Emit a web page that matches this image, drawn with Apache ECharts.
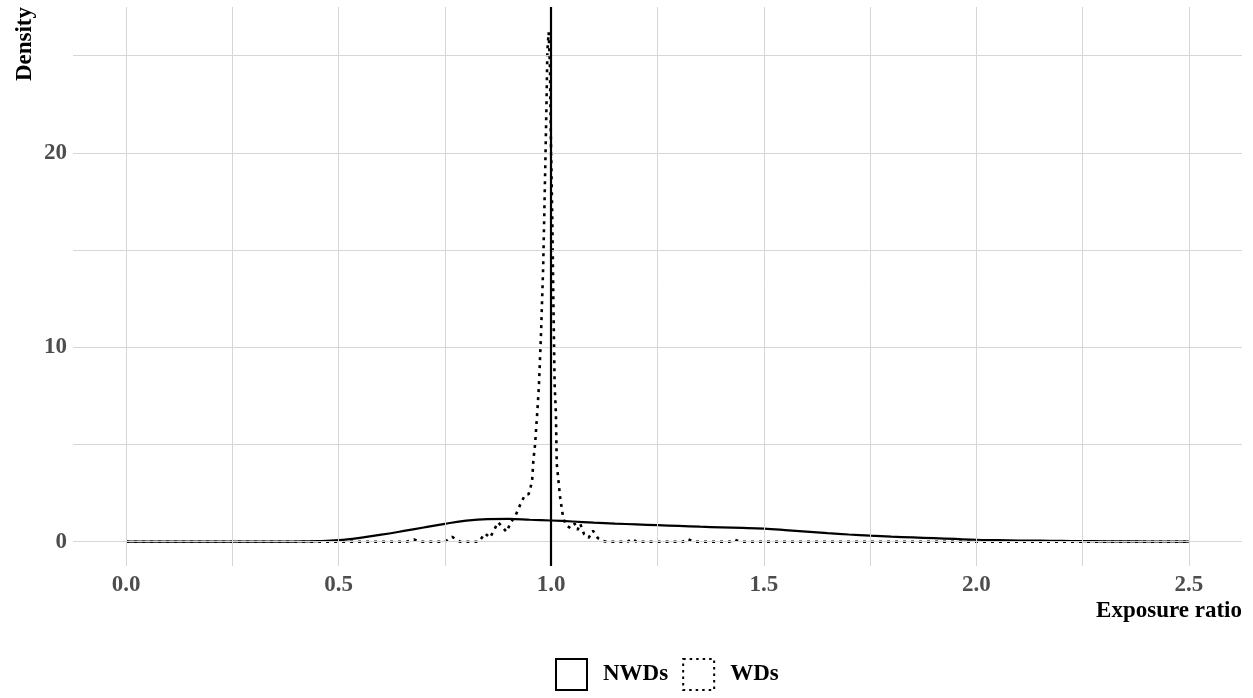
<!DOCTYPE html>
<html>
<head>
<meta charset="utf-8">
<script src="https://cdn.jsdelivr.net/npm/echarts@6/dist/echarts.min.js"></script>
<style>
html,body{margin:0;padding:0;background:#fff;}
#chart{width:1253px;height:698px;}
</style>
</head>
<body>
<div id="chart"></div>
<script>
// ---- data ----
const seriesNames = ['NWDs', 'WDs'];
const xTickLabels = ['0.0', '0.5', '1.0', '1.5', '2.0', '2.5'];
const yTickLabels = ['0', '10', '20'];
const xTitle = 'Exposure ratio';
const yTitle = 'Density';
const refLineX = 1.0;

// NWDs density curve
const nwdX = [0, 0.05, 0.1, 0.15, 0.2, 0.25, 0.3, 0.35, 0.4, 0.45, 0.5, 0.55, 0.6, 0.65, 0.7, 0.75, 0.8, 0.85, 0.9, 0.95,
  1.0, 1.05, 1.1, 1.15, 1.2, 1.25, 1.3, 1.35, 1.4, 1.45, 1.5, 1.55, 1.6, 1.65, 1.7, 1.75, 1.8, 1.85, 1.9, 1.95,
  2.0, 2.05, 2.1, 2.15, 2.2, 2.25, 2.3, 2.35, 2.4, 2.45, 2.5];
const nwdY = [0, 0, 0, 0, 0, 0, 0, 0, 0.01, 0.03, 0.08, 0.2, 0.36, 0.54, 0.73, 0.92, 1.08, 1.16, 1.17, 1.13,
  1.09, 1.04, 0.98, 0.93, 0.89, 0.85, 0.81, 0.77, 0.74, 0.71, 0.67, 0.6, 0.52, 0.44, 0.37, 0.31, 0.26, 0.22, 0.18, 0.14,
  0.1, 0.08, 0.06, 0.05, 0.04, 0.03, 0.02, 0.015, 0.01, 0.01, 0.005];

// WDs density curve
const wdX = [0, 0.6, 0.66, 0.677, 0.69, 0.75, 0.767, 0.785, 0.83, 0.844, 0.856, 0.875, 0.895, 0.905, 0.915, 0.927, 0.938, 0.947,
  0.955, 0.958, 0.962, 0.967, 0.971, 0.976, 0.981, 0.986, 0.989, 0.991, 0.994, 0.997, 0.999, 1.003, 1.005, 1.008, 1.011, 1.013,
  1.021, 1.028, 1.035, 1.045, 1.055, 1.062, 1.068, 1.077, 1.088, 1.098, 1.11, 1.12, 1.13, 1.18, 1.19, 1.2, 1.31, 1.32, 1.335,
  1.42, 1.43, 1.445, 2.5];
const wdY = [0, 0, 0, 0.12, 0, 0, 0.25, 0, 0, 0.43, 0.2, 1.0, 0.5, 1.0, 1.3, 1.9, 2.4, 2.45,
  3.1, 4.2, 5.0, 6.6, 8.0, 10.7, 14.1, 19.3, 22.7, 25.3, 26.2, 24.4, 21.0, 15.9, 12.4, 8.1, 6.6, 4.0,
  2.27, 1.24, 0.85, 0.7, 0.93, 0.6, 0.93, 0.4, 0.2, 0.57, 0.18, 0.05, 0, 0, 0.15, 0, 0, 0.15, 0,
  0, 0.12, 0, 0];

const xGrid = [0, 0.25, 0.5, 0.75, 1.0, 1.25, 1.5, 1.75, 2.0, 2.25, 2.5];
const yGrid = [0, 5, 10, 15, 20, 25];

// ---- chart ----
const FONT = '"Liberation Serif", "DejaVu Serif", serif';
const zip = (xs, ys) => xs.map((x, i) => [x, ys[i]]);
const chart = echarts.init(document.getElementById('chart'), null, {renderer: 'canvas'});

const option = {
  animation: false,
  backgroundColor: '#ffffff',
  grid: {left: 73, right: 11, top: 7, bottom: 132, containLabel: false},
  xAxis: {
    type: 'value', min: -0.125, max: 2.625, interval: 0.125,
    axisLine: {show: false}, axisTick: {show: false}, splitLine: {show: false},
    axisLabel: {
      margin: 8, color: '#4d4d4d', fontFamily: FONT, fontWeight: 'bold', fontSize: 23,
      showMinLabel: true, showMaxLabel: true,
      formatter: v => { const s = v.toFixed(1); return xTickLabels.indexOf(s) >= 0 && Math.abs(v * 2 - Math.round(v * 2)) < 1e-6 ? s : ''; }
    }
  },
  yAxis: {
    type: 'value', min: -1.25, max: 27.5, interval: 1.25,
    axisLine: {show: false}, axisTick: {show: false}, splitLine: {show: false},
    axisLabel: {
      margin: 6, color: '#4d4d4d', fontFamily: FONT, fontWeight: 'bold', fontSize: 23,
      formatter: v => { const s = String(Math.round(v)); return Math.abs(v - Math.round(v)) < 1e-6 && yTickLabels.indexOf(s) >= 0 ? s : ''; }
    }
  },
  legend: {
    data: [
      {name: seriesNames[0], icon: 'rect', itemStyle: {color: '#ffffff', borderColor: '#000000', borderWidth: 2, borderType: 'solid'}},
      {name: seriesNames[1], icon: 'rect', itemStyle: {color: '#ffffff', borderColor: '#000000', borderWidth: 2, borderType: [2.5, 4]}}
    ],
    bottom: 2, left: 550, itemWidth: 31, itemHeight: 31, itemGap: 14,
    selectedMode: false,
    textStyle: {fontFamily: FONT, fontWeight: 'bold', fontSize: 23, color: '#000', padding: [0, 0, 0, 11]}
  },
  graphic: [
    {type: 'text', right: 11, top: 600, style: {text: xTitle, font: 'bold 23px ' + FONT, fill: '#000'}},
    {type: 'text', x: 25, y: 7, rotation: Math.PI / 2,
     style: {text: yTitle, font: 'bold 23px ' + FONT, fill: '#000', align: 'right', verticalAlign: 'middle'}}
  ],
  series: [
    {
      name: 'grid', type: 'line', data: [[0, 0]], symbol: 'none', lineStyle: {width: 0}, z: 1, silent: true,
      markLine: {
        silent: true, symbol: ['none', 'none'], label: {show: false}, animation: false,
        lineStyle: {color: '#d6d6d6', width: 1, type: 'solid'},
        data: xGrid.map(v => ({xAxis: v})).concat(yGrid.map(v => ({yAxis: v})))
      }
    },
    {
      name: seriesNames[0], type: 'line', data: zip(nwdX, nwdY), smooth: 0.4, symbol: 'none', showSymbol: false, z: 3,
      itemStyle: {color: '#000'}, lineStyle: {color: '#000', width: 2.2, type: 'solid'}
    },
    {
      name: seriesNames[1], type: 'line', data: zip(wdX, wdY), smooth: false, symbol: 'none', showSymbol: false, z: 2,
      itemStyle: {color: '#000'}, lineStyle: {color: '#000', width: 2.6, type: [3, 5], cap: 'butt'}
    },
    {
      name: 'ref', type: 'line', data: [[refLineX, 0]], symbol: 'none', lineStyle: {width: 0}, z: 4, silent: true,
      markLine: {
        silent: true, symbol: ['none', 'none'], label: {show: false}, animation: false,
        lineStyle: {color: '#000', width: 2.2, type: 'solid'},
        data: [{xAxis: refLineX}]
      }
    }
  ]
};
chart.setOption(option);
</script>
</body>
</html>
